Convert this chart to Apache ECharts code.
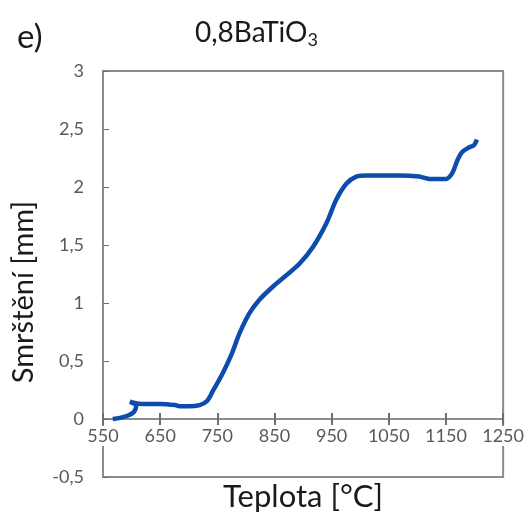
<!DOCTYPE html>
<html>
<head>
<meta charset="utf-8">
<script src="https://cdn.jsdelivr.net/npm/echarts@6/dist/echarts.min.js"></script>
<style>
  html, body { margin: 0; padding: 0; background: #fff; }
  #chart { width: 528px; height: 521px; }
</style>
</head>
<body>
<div id="chart"></div>
<script>
// Dilatometric shrinkage curve of 0,8BaTiO3
const temperature = [567, 580, 594, 604, 608, 597, 604, 618, 650, 676, 684, 700, 719, 732, 742, 759, 775, 789, 806, 824, 847, 871, 894, 917, 941, 958, 976, 993, 1011, 1040, 1068, 1103, 1121, 1150, 1161, 1170, 1178, 1190, 1199, 1204];
const shrinkage   = [0.00, 0.01, 0.03, 0.06, 0.11, 0.15, 0.14, 0.13, 0.13, 0.12, 0.11, 0.11, 0.12, 0.155, 0.24, 0.39, 0.56, 0.74, 0.91, 1.03, 1.14, 1.24, 1.34, 1.48, 1.69, 1.89, 2.03, 2.09, 2.10, 2.10, 2.10, 2.09, 2.07, 2.07, 2.12, 2.23, 2.30, 2.34, 2.36, 2.41];

const xTicks = { min: 550, max: 1250, step: 100 };
const yTicks = { min: -0.5, max: 3, step: 0.5 };

const points = temperature.map((t, i) => [t, shrinkage[i]]);
const comma = v => String(v).replace('.', ',');

const chart = echarts.init(document.getElementById('chart'), null, { renderer: 'canvas' });
const font = 'Lato, "Open Sans", sans-serif';
const gray = '#8c8c8c';
const labelColor = '#595959';
const textColor = '#1a1a1a';

// plot box: 406 px tall for 3.5 units, so y = 0 lies 58 px above the bottom edge
const gridBox = { left: 103, top: 71, right: 24, bottom: 44 };
const zeroLift = -58;

const xBase = {
  type: 'value',
  min: xTicks.min, max: xTicks.max, interval: xTicks.step,
  splitLine: { show: false }
};

chart.setOption({
  animation: false,
  backgroundColor: '#fff',
  grid: Object.assign({}, gridBox, {
    show: true, borderColor: gray, borderWidth: 2, backgroundColor: 'transparent'
  }),
  xAxis: [Object.assign({}, xBase, {
    // labelled axis, drawn along y = 0 with downward tick halves
    position: 'bottom', offset: zeroLift,
    axisLine: { show: true, onZero: false, lineStyle: { color: gray, width: 2 } },
    axisTick: { show: true, inside: false, length: 6, lineStyle: { color: '#6e6e6e', width: 2 } },
    axisLabel: {
      show: true, margin: 7, color: labelColor, fontSize: 18, fontFamily: font,
      backgroundColor: '#fff', padding: [1, 1],
      formatter: v => String(v)
    }
  }), Object.assign({}, xBase, {
    // upward tick halves on the same line
    position: 'top',
    axisLine: { show: true, onZero: true, onZeroAxisIndex: 0, lineStyle: { color: gray, width: 2 } },
    axisTick: { show: true, inside: false, length: 6, lineStyle: { color: '#6e6e6e', width: 2 } },
    axisLabel: { show: false }
  })],
  yAxis: {
    type: 'value',
    min: yTicks.min, max: yTicks.max, interval: yTicks.step,
    axisLine: { show: true, onZero: false, lineStyle: { color: gray, width: 2 } },
    axisTick: { show: true, inside: true, length: 6, lineStyle: { color: '#6e6e6e', width: 1 } },
    axisLabel: {
      margin: 19, color: labelColor, fontSize: 18, fontFamily: font,
      formatter: v => comma(v)
    },
    splitLine: { show: false }
  },
  graphic: [
    { type: 'text', x: 17, y: 37, style: { text: 'e)', font: '33px ' + font, fill: textColor, verticalAlign: 'middle' } },
    {
      type: 'text', x: 195, y: 33,
      style: {
        text: '0,8BaTiO{sub|3}',
        font: '28px ' + font, fill: textColor, verticalAlign: 'middle',
        rich: { sub: { fontSize: 18, fontFamily: font, fill: textColor, padding: [15, 0, 0, 0] } }
      }
    },
    {
      type: 'text', x: 24, y: 292, rotation: Math.PI / 2,
      style: { text: 'Smrštění [mm]', font: '29px ' + font, fill: textColor, align: 'center', verticalAlign: 'middle' }
    },
    {
      type: 'text', x: 303, y: 497,
      style: { text: 'Teplota [°C]', font: '31px ' + font, fill: textColor, align: 'center', verticalAlign: 'middle' }
    }
  ],
  series: [{
    type: 'line',
    xAxisIndex: 0,
    data: points,
    showSymbol: false,
    smooth: 0.3,
    lineStyle: { color: '#0b4cae', width: 4.5 },
    z: 5
  }]
});
</script>
</body>
</html>
